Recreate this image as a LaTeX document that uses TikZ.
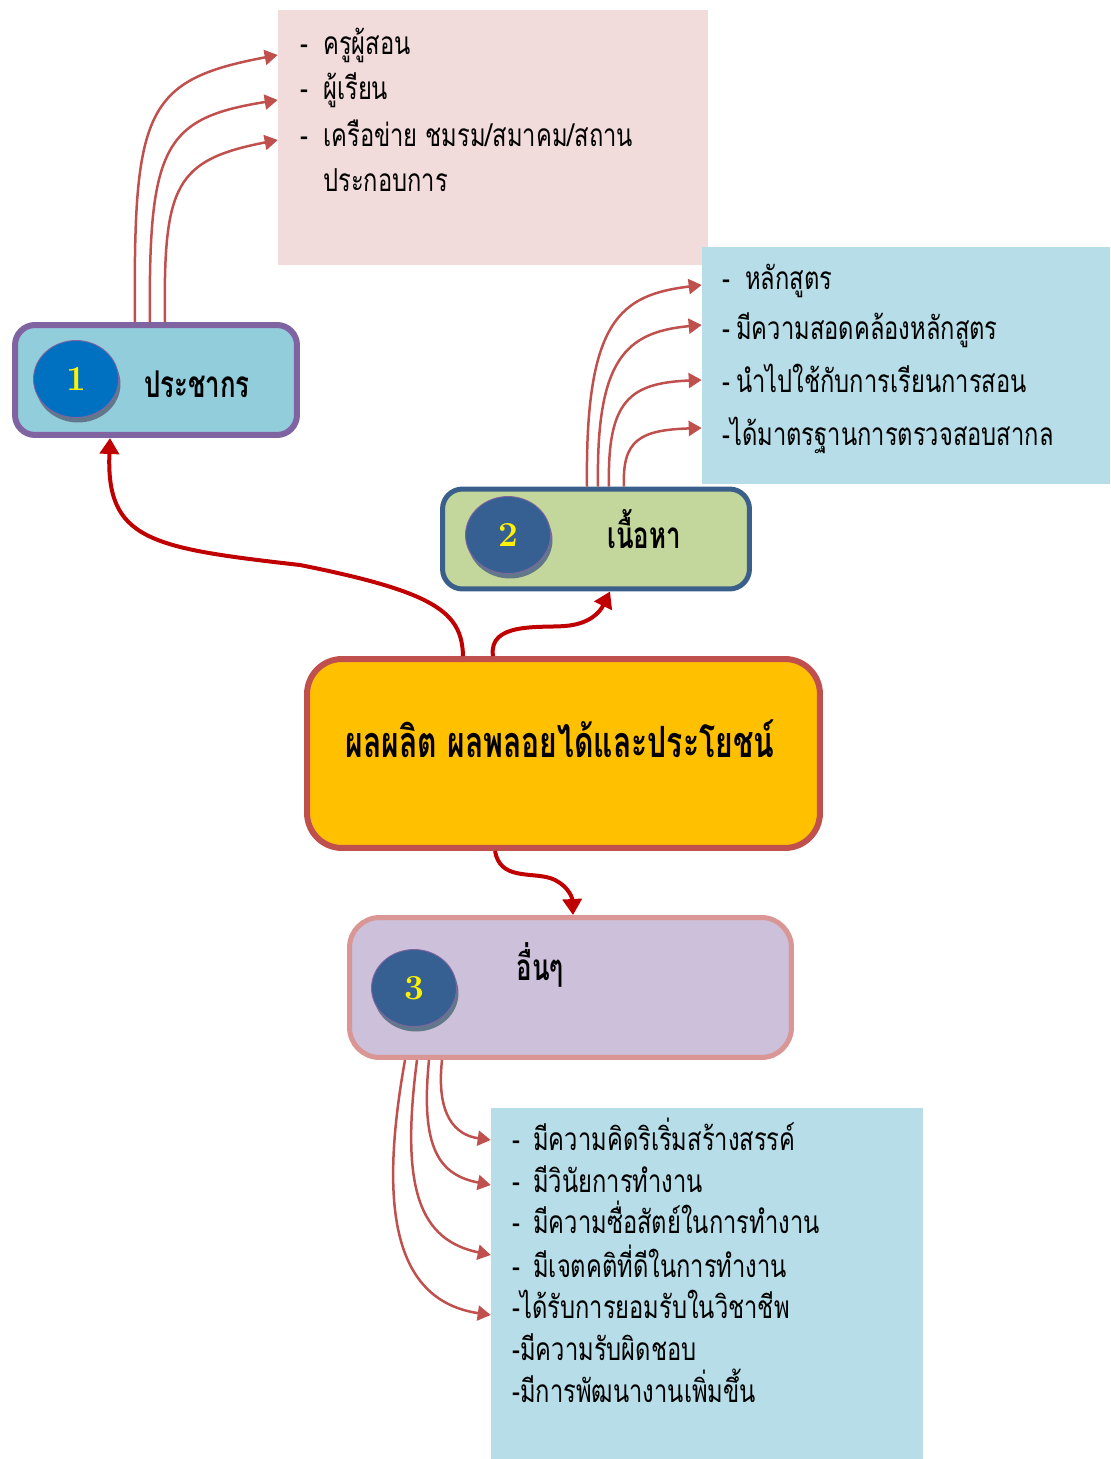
\documentclass[tikz,border=0pt]{standalone}
\usepackage{fontspec}
\usepackage{tikz}
\usetikzlibrary{arrows.meta,shapes.geometric,shadows}
\newfontfamily\thaifont[Script=Thai,FakeStretch=0.75]{Loma}
\newfontfamily\thaihead[Script=Thai,FakeStretch=0.7]{Loma}
\newcommand{\itemdash}[1]{\makebox[#1][l]{-}}

\definecolor{pinkbg}{HTML}{F2DCDB}
\definecolor{bluebg}{HTML}{B7DEE8}
\definecolor{popfill}{HTML}{92CDDC}
\definecolor{popedge}{HTML}{8064A2}
\definecolor{confill}{HTML}{C3D69B}
\definecolor{conedge}{HTML}{3A5F8B}
\definecolor{resfill}{HTML}{FFC000}
\definecolor{resedge}{HTML}{C0504D}
\definecolor{othfill}{HTML}{CCC0DA}
\definecolor{othedge}{HTML}{D99694}
\definecolor{numblue}{HTML}{0070C0}
\definecolor{numdark}{HTML}{376092}
\definecolor{numedge}{HTML}{8064A2}
\definecolor{numshadow}{HTML}{62788A}
\definecolor{darkred}{HTML}{C00000}
\definecolor{linkred}{HTML}{C0504D}

\begin{document}
\begin{tikzpicture}[x=0.02cm, y=-0.02cm,
  box/.style={rectangle, rounded corners=0.4cm, line width=0.12cm},
  listbox/.style={rectangle, inner sep=0pt},
  num/.style={ellipse, draw=numedge, line width=0.5pt, text=yellow,
    minimum width=1.7cm, minimum height=1.54cm,
    font=\bfseries\fontsize{20}{20}\selectfont,
    drop shadow={shadow xshift=0.04cm, shadow yshift=-0.1cm, fill=numshadow, opacity=1}},
  head/.style={anchor=base, inner sep=0pt, font=\thaihead\bfseries\fontsize{21}{21}\selectfont},
  item/.style={anchor=base west, inner sep=0pt, font=\thaifont\fontsize{18}{18}\selectfont},
  feed/.style={draw=linkred, line width=0.05cm, -{Triangle[length=0.26cm, width=0.3cm]}},
  flow/.style={draw=darkred, line width=0.08cm, -{Triangle[length=0.32cm, width=0.38cm]}}]
\useasboundingbox (0,0) rectangle (1110,1459);

% lists
\node[listbox, fill=pinkbg, minimum width=8.6cm, minimum height=5.1cm] (who) at (493,137.5) {};
\node[listbox, fill=bluebg, minimum width=8.16cm, minimum height=4.74cm] (what) at (906,365.5) {};
\node[listbox, fill=bluebg, minimum width=8.64cm, minimum height=7.02cm] (gain) at (707,1283.5) {};

% boxes
\node[box, fill=popfill, draw=popedge, minimum width=5.64cm, minimum height=2.2cm] (pop) at (156,380) {};
\node[box, fill=confill, draw=conedge, line width=0.1cm, minimum width=6.14cm, minimum height=2.0cm] (con) at (596,539) {};
\node[box, fill=resfill, draw=resedge, rounded corners=0.7cm, minimum width=10.26cm, minimum height=3.78cm] (result) at (563.5,753.5) {};
\node[box, fill=othfill, draw=othedge, line width=0.1cm, rounded corners=0.6cm, minimum width=8.84cm, minimum height=2.8cm] (oth) at (570.5,987.5) {};

\node[num, fill=numblue] (n1) at (76,379) {1};
\node[num, fill=numdark] (n2) at (508,535) {2};
\node[num, fill=numdark] (n3) at (414,988) {3};

\node[head] (popt) at (197,398) {ประชากร};
\node[head] (cont) at (644,548) {เนื้อหา};
\node[head, font=\thaihead\bfseries\fontsize{24.5}{24.5}\selectfont] (rest) at (560,757) {ผลผลิต ผลพลอยได้และประโยชน์};
\node[head] (otht) at (540,980) {อื่นๆ};

% list texts
\node[item] (w1) at (300,55) {\itemdash{0.46cm}ครูผู้สอน};
\node[item] (w2) at (300,100) {\itemdash{0.46cm}ผู้เรียน};
\node[item] (w3) at (300,147) {\itemdash{0.46cm}เครือข่าย ชมรม/สมาคม/สถาน};
\node[item] (w4) at (323,192) {ประกอบการ};

\node[item] (c1) at (722,290) {\itemdash{0.46cm}หลักสูตร};
\node[item] (c2) at (722,340) {\itemdash{0.28cm}มีความสอดคล้องหลักสูตร};
\node[item] (c3) at (722,393) {\itemdash{0.28cm}นำไปใช้กับการเรียนการสอน};
\node[item] (c4) at (722,445) {-ได้มาตรฐานการตรวจสอบสากล};

\node[item] (g1) at (512,1150) {\itemdash{0.42cm}มีความคิดริเริ่มสร้างสรรค์};
\node[item] (g2) at (512,1192) {\itemdash{0.42cm}มีวินัยการทำงาน};
\node[item] (g3) at (512,1233) {\itemdash{0.42cm}มีความซื่อสัตย์ในการทำงาน};
\node[item] (g4) at (512,1277) {\itemdash{0.42cm}มีเจตคติที่ดีในการทำงาน};
\node[item] (g5) at (512,1318) {-ได้รับการยอมรับในวิชาชีพ};
\node[item] (g6) at (512,1360) {-มีความรับผิดชอบ};
\node[item] (g7) at (512,1402) {-มีการพัฒนางานเพิ่มขึ้น};

% thick arrows
\draw[flow] (463,0 |- result.north) .. controls (462,612) and (435,592) .. (300,565)
  .. controls (150,548) and (106,540) .. (110,0 |- pop.south);
\draw[flow] (493,0 |- result.north) .. controls (488,622) and (540,628) .. (565,626)
  .. controls (590,624) and (600,612) .. (610,0 |- con.south);
\draw[flow] (495,0 |- result.south) .. controls (500,880) and (530,872) .. (550,878)
  .. controls (565,883) and (572,895) .. (573,0 |- oth.north);

% thin arrows
\draw[feed] (135,0 |- pop.north) .. controls (133,110) and (145,80) .. (who.west |- 0,55);
\draw[feed] (150,0 |- pop.north) .. controls (148,145) and (165,118) .. (who.west |- 0,100);
\draw[feed] (165,0 |- pop.north) .. controls (163,185) and (175,160) .. (who.west |- 0,140);

\draw[feed] (587,0 |- con.north) .. controls (585,320) and (620,295) .. (what.west |- 0,285);
\draw[feed] (598,0 |- con.north) .. controls (596,360) and (625,332) .. (what.west |- 0,325);
\draw[feed] (609,0 |- con.north) .. controls (607,400) and (630,383) .. (what.west |- 0,380);
\draw[feed] (624,0 |- con.north) .. controls (622,440) and (640,430) .. (what.west |- 0,428);

\draw[feed] (405,0 |- oth.south) .. controls (380,1200) and (390,1300) .. (gain.west |- 0,1315);
\draw[feed] (417,0 |- oth.south) .. controls (400,1190) and (420,1240) .. (gain.west |- 0,1255);
\draw[feed] (429,0 |- oth.south) .. controls (420,1150) and (440,1175) .. (gain.west |- 0,1185);
\draw[feed] (442,0 |- oth.south) .. controls (436,1115) and (455,1135) .. (gain.west |- 0,1140);
\end{tikzpicture}
\end{document}
